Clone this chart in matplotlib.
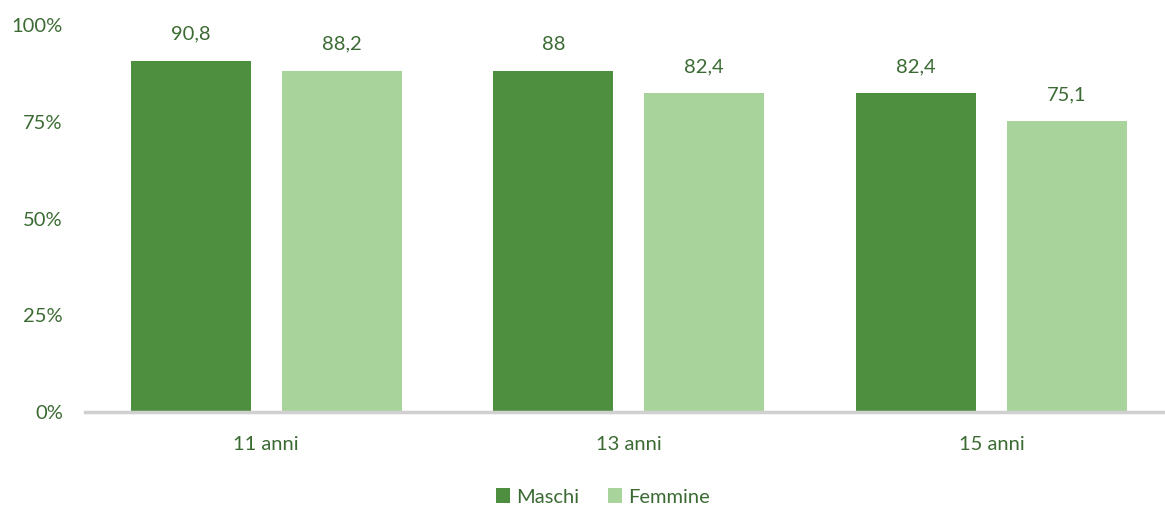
import matplotlib
matplotlib.use("Agg")
import matplotlib.pyplot as plt
import numpy as np

categories = ["11 anni", "13 anni", "15 anni"]
maschi = [90.8, 88.0, 82.4]
femmine = [88.2, 82.4, 75.1]
maschi_labels = ["90,8", "88", "82,4"]
femmine_labels = ["88,2", "82,4", "75,1"]
yticks = [0, 25, 50, 75, 100]
ytick_labels = ["0%", "25%", "50%", "75%", "100%"]

TXT = "#3B6B33"
C1 = "#4E8F3F"
C2 = "#A8D49B"
plt.rcParams['font.family'] = ['Lato', 'DejaVu Sans']
FS = 14.5

W, H = 1165, 507
fig = plt.figure(figsize=(W/100, H/100), dpi=100)
left, right = 85, 1172.75
bottom, top = 412, 25
ax = fig.add_axes([left/W, 1-bottom/H, (right-left)/W, (bottom-top)/H])

x = np.arange(len(categories))
bw = 0.331
off = 0.208
b1 = ax.bar(x-off, maschi, bw, color=C1, label="Maschi")
b2 = ax.bar(x+off, femmine, bw, color=C2, label="Femmine")
for bars, labs in ((b1, maschi_labels), (b2, femmine_labels)):
    for r, l in zip(bars, labs):
        ax.annotate(l, (r.get_x()+r.get_width()/2, r.get_height()), xytext=(0, 13),
                    textcoords="offset points", ha="center", va="bottom",
                    fontsize=FS, color=TXT)

ax.set_xlim(-0.5, 2.5)
ax.set_ylim(0, 100)
ax.set_yticks(yticks)
ax.set_yticklabels(ytick_labels, fontsize=FS, color=TXT)
ax.set_xticks(x)
ax.set_xticklabels(categories, fontsize=FS, color=TXT)
ax.tick_params(length=0)
ax.tick_params(axis='y', pad=16)
ax.tick_params(axis='x', pad=17)
for s in ["top", "right", "left"]:
    ax.spines[s].set_visible(False)
ax.spines["bottom"].set_color("#D0D0D0")
ax.spines["bottom"].set_linewidth(2.5)
ax.set_axisbelow(False)

leg = fig.legend(handles=[b1, b2], labels=["Maschi", "Femmine"], loc="center",
                 bbox_to_anchor=(603/W, 1-497/H), ncol=2, frameon=False,
                 fontsize=FS, handlelength=0.7, handleheight=0.7, handletextpad=0.3,
                 columnspacing=1.4)
for t in leg.get_texts():
    t.set_color(TXT)

fig.savefig("out.png", dpi=100)
